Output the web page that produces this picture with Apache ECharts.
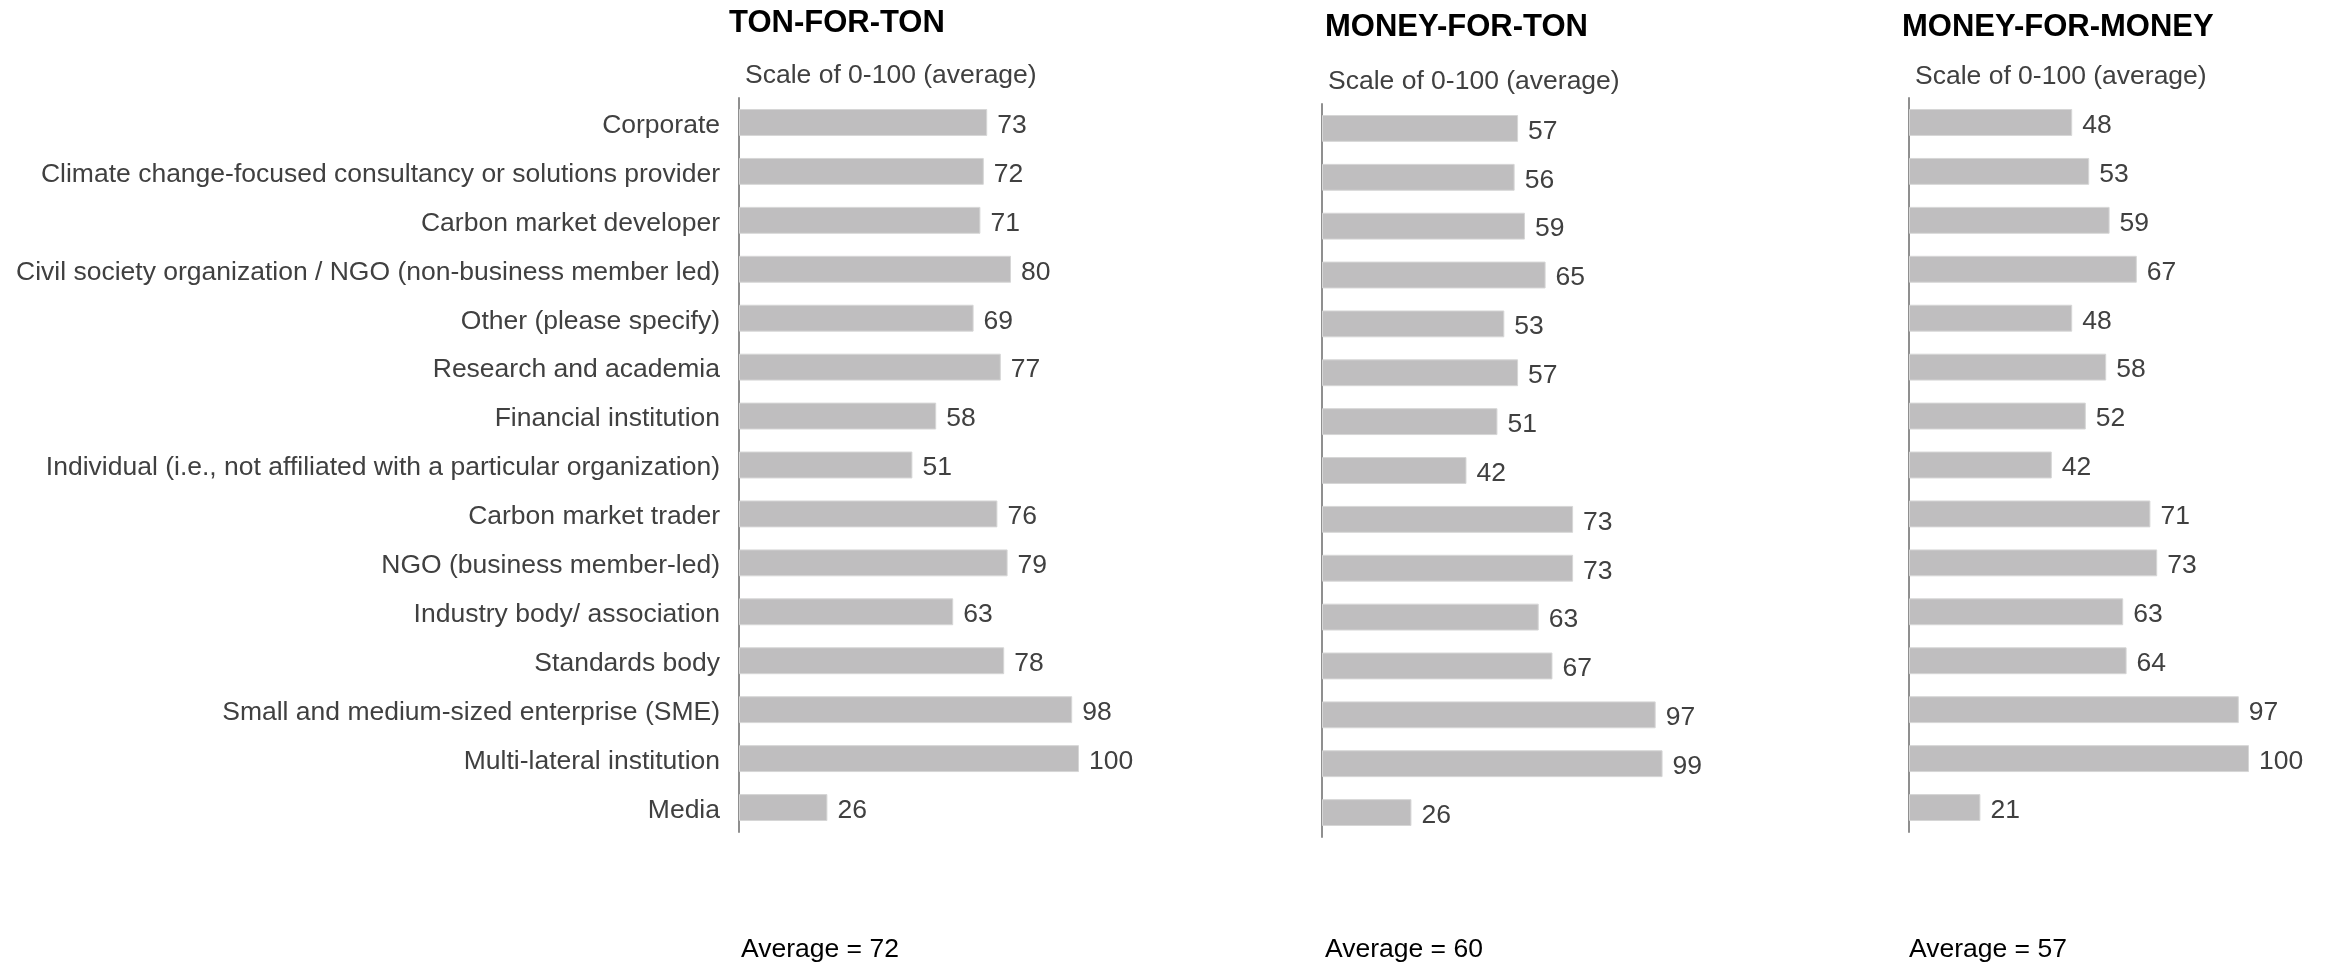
<!DOCTYPE html>
<html>
<head>
<meta charset="utf-8">
<script src="https://cdn.jsdelivr.net/npm/echarts@6/dist/echarts.min.js"></script>
<style>
  html, body { margin: 0; padding: 0; background: #ffffff; }
  #chart { width: 2328px; height: 962px; }
</style>
</head>
<body>
<div id="chart"></div>
<script>
// Stakeholder groups, top to bottom
const categories = [
  'Corporate',
  'Climate change-focused consultancy or solutions provider',
  'Carbon market developer',
  'Civil society organization / NGO (non-business member led)',
  'Other (please specify)',
  'Research and academia',
  'Financial institution',
  'Individual (i.e., not affiliated with a particular organization)',
  'Carbon market trader',
  'NGO (business member-led)',
  'Industry body/ association',
  'Standards body',
  'Small and medium-sized enterprise (SME)',
  'Multi-lateral institution',
  'Media'
];

const panelTitles = ['TON-FOR-TON', 'MONEY-FOR-TON', 'MONEY-FOR-MONEY'];
const scaleNote = 'Scale of 0-100 (average)';

const tonForTon     = [73, 72, 71, 80, 69, 77, 58, 51, 76, 79, 63, 78, 98, 100, 26];
const moneyForTon   = [57, 56, 59, 65, 53, 57, 51, 42, 73, 73, 63, 67, 97, 99, 26];
const moneyForMoney = [48, 53, 59, 67, 48, 58, 52, 42, 71, 73, 63, 64, 97, 100, 21];

const averages = [72, 60, 57];

const seriesValues = [tonForTon, moneyForTon, moneyForMoney];

// Layout of the three panels (pixels)
const panels = [
  { left: 739,  width: 340, top: 98,  height: 734, titleX: 729,  titleY: 26, noteX: 745,  noteY: 77, avgX: 741 },
  { left: 1322, width: 344, top: 104, height: 733, titleX: 1325, titleY: 30, noteX: 1328, noteY: 83, avgX: 1325 },
  { left: 1909, width: 340, top: 98,  height: 734, titleX: 1902, titleY: 30, noteX: 1915, noteY: 78, avgX: 1909 }
];

const FONT = '"Liberation Sans", Arial, sans-serif';
const FS = 26.5;
const BAR = '#bfbebf';
const TEXT = '#404040';
const AXIS = '#8f8f8f';

const grids = panels.map(p => ({ left: p.left, width: p.width, top: p.top, height: p.height, containLabel: false }));

const xAxes = panels.map((p, i) => ({
  type: 'value', gridIndex: i, min: 0, max: 100,
  show: false
}));

const yAxes = panels.map((p, i) => ({
  type: 'category', gridIndex: i, data: categories, inverse: true,
  axisLine: { show: true, lineStyle: { color: AXIS, width: 2 } },
  axisTick: { show: false },
  splitLine: { show: false },
  axisLabel: i === 0 ? {
    show: true, color: TEXT, fontFamily: FONT, fontSize: FS, margin: 19,
    formatter: '{c|{value}}',
    rich: { c: { color: TEXT, fontFamily: FONT, fontSize: FS, padding: [6, 0, 0, 0] } }
  } : { show: false }
}));

const series = seriesValues.map((vals, i) => ({
  type: 'bar', xAxisIndex: i, yAxisIndex: i, data: vals,
  barWidth: '55%',
  itemStyle: { color: BAR, borderColor: '#d6d6d6', borderWidth: 1 },
  label: {
    show: true, position: 'right', distance: 10, offset: [0, 3],
    color: TEXT, fontFamily: FONT, fontSize: FS
  },
  silent: true
}));

const graphic = [];
panels.forEach((p, i) => {
  graphic.push({
    type: 'text', left: p.titleX, top: p.titleY - 18,
    style: { text: panelTitles[i], fill: '#000', font: 'bold 31px ' + FONT }
  });
  graphic.push({
    type: 'text', left: p.noteX, top: p.noteY - 15,
    style: { text: scaleNote, fill: TEXT, font: FS + 'px ' + FONT }
  });
  graphic.push({
    type: 'text', left: p.avgX, top: 951 - 15,
    style: { text: 'Average = ' + averages[i], fill: '#000', font: FS + 'px ' + FONT }
  });
});

const chart = echarts.init(document.getElementById('chart'), null, { renderer: 'canvas' });
chart.setOption({
  animation: false,
  backgroundColor: '#ffffff',
  grid: grids,
  xAxis: xAxes,
  yAxis: yAxes,
  series: series,
  graphic: graphic
});
</script>
</body>
</html>
